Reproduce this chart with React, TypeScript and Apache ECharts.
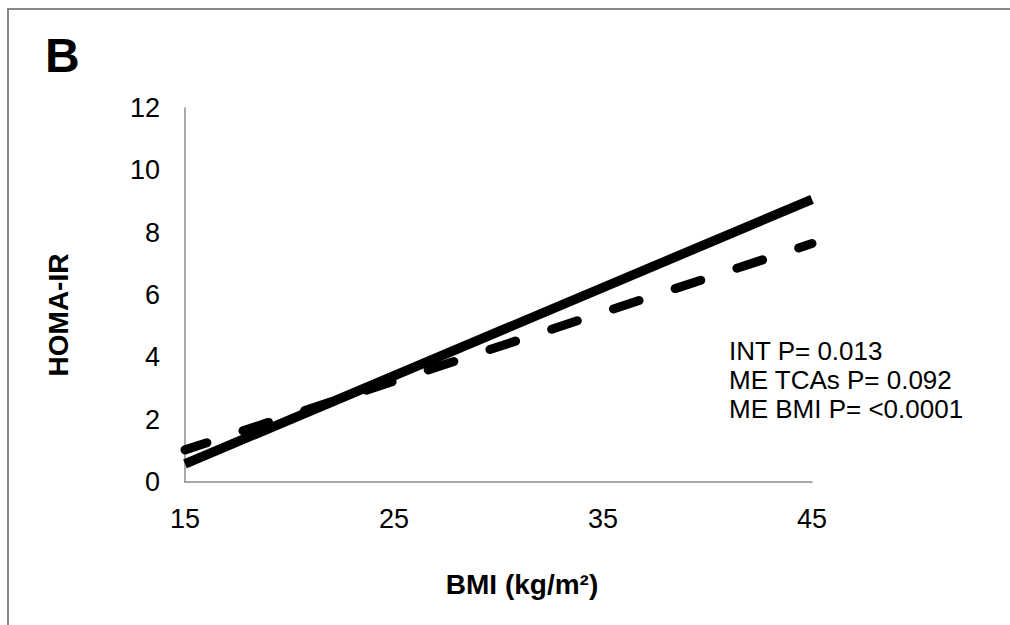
import React, { useEffect, useRef } from "react";
import * as echarts from "echarts";

// Data
const bmiRange = [15, 45];
const solidHoma = [0.58, 9.07];
const dashedHoma = [1.03, 7.65];
const xTickStep = 10;
const yTickStep = 2;
const yMax = 12;
const annotations = ["INT P= 0.013", "ME TCAs P= 0.092", "ME BMI P= <0.0001"];
const panelLabel = "B";
const xTitle = "BMI (kg/m\u00B2)";
const yTitle = "HOMA-IR";

const FONT = '"Liberation Sans", Arial, sans-serif';

export default function App() {
  const ref = useRef<HTMLDivElement>(null);
  useEffect(() => {
    if (!ref.current) return;
    const chart = echarts.init(ref.current, undefined, { renderer: "svg" });
    const solidData = bmiRange.map((x, i) => [x, solidHoma[i]]);
    const dashedData = bmiRange.map((x, i) => [x, dashedHoma[i]]);
    chart.setOption({
      animation: false,
      backgroundColor: "#ffffff",
      textStyle: { fontFamily: FONT },
      grid: { left: 185, right: 198, top: 108, bottom: 143, containLabel: false },
      xAxis: {
        type: "value",
        min: bmiRange[0],
        max: bmiRange[1],
        interval: xTickStep,
        axisLine: { show: true, lineStyle: { color: "#8c8c8c", width: 1.5 } },
        axisTick: { show: false },
        splitLine: { show: false },
        axisLabel: { color: "#000", fontSize: 27, fontFamily: FONT, margin: 23 },
      },
      yAxis: {
        type: "value",
        min: 0,
        max: yMax,
        interval: yTickStep,
        axisLine: { show: true, lineStyle: { color: "#8c8c8c", width: 1.5 } },
        axisTick: { show: false },
        splitLine: { show: false },
        axisLabel: { color: "#000", fontSize: 27, fontFamily: FONT, margin: 25 },
      },
      series: [
        {
          name: "solid",
          type: "line",
          data: solidData,
          showSymbol: false,
          symbol: "none",
          lineStyle: { color: "#000", width: 9.5, type: "solid" },
          z: 3,
        },
        {
          name: "dashed",
          type: "line",
          data: dashedData,
          showSymbol: false,
          symbol: "none",
          lineStyle: { color: "#000", width: 9, type: [27, 38], dashOffset: 4, cap: "round" },
          z: 2,
        },
      ],
      graphic: [
        {
          type: "line",
          shape: { x1: 7, y1: 9, x2: 1010, y2: 9 },
          style: { stroke: "#888888", lineWidth: 2 },
          silent: true,
        },
        {
          type: "line",
          shape: { x1: 8, y1: 8, x2: 8, y2: 625 },
          style: { stroke: "#888888", lineWidth: 2 },
          silent: true,
        },
        {
          type: "text",
          x: 45,
          y: 55,
          style: {
            text: panelLabel,
            fontFamily: FONT,
            fontWeight: "bold",
            fontSize: 48,
            fill: "#000",
            verticalAlign: "middle",
            align: "left",
          },
        },
        {
          type: "text",
          x: 58,
          y: 315,
          rotation: Math.PI / 2,
          style: {
            text: yTitle,
            fontFamily: FONT,
            fontWeight: "bold",
            fontSize: 28,
            fill: "#000",
            align: "center",
            verticalAlign: "middle",
          },
        },
        {
          type: "text",
          x: 522,
          y: 584,
          style: {
            text: xTitle,
            fontFamily: FONT,
            fontWeight: "bold",
            fontSize: 28,
            fill: "#000",
            align: "center",
            verticalAlign: "middle",
          },
        },
        ...annotations.map((t, i) => ({
          type: "text",
          x: 729,
          y: 351 + i * 29,
          style: {
            text: t,
            fontFamily: FONT,
            fontSize: 26,
            fill: "#000",
            align: "left",
            verticalAlign: "middle",
          },
        })),
      ],
    });
    return () => chart.dispose();
  }, []);
  return (
    <div
      ref={ref}
      style={{ position: "fixed", left: 0, top: 0, width: 1010, height: 625 }}
    />
  );
}
